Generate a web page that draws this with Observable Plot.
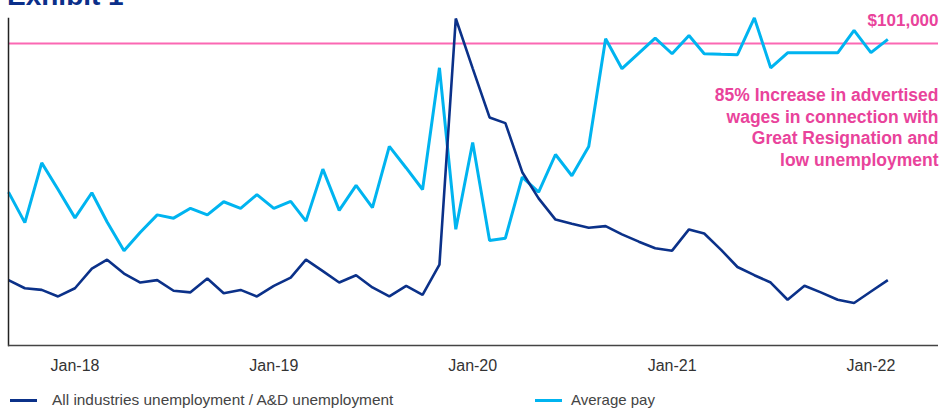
<!DOCTYPE html>
<html>
<head>
<meta charset="utf-8">
<script src="https://cdn.jsdelivr.net/npm/d3@7"></script>
<script src="https://cdn.jsdelivr.net/npm/@observablehq/plot@0.6"></script>
<style>
  body { margin: 0; background: #fff; font-family: "Liberation Sans", Arial, sans-serif; }
  #wrap { position: relative; width: 940px; height: 412px; overflow: hidden; background: #fff; }
  .title { position: absolute; left: 7px; top: -18px; z-index: 1; font-size: 28px; line-height: 28px;
           font-weight: bold; color: #0b2f8a; white-space: nowrap; }
  #chart { position: absolute; left: 0; top: 0; }
  .key { position: absolute; top: 390px; display: flex; align-items: center; font-size: 15px;
         line-height: 20px; color: #444; white-space: nowrap; }
  .key i { display: inline-block; width: 27px; height: 3px; }
</style>
</head>
<body>
<div id="wrap">
  <div id="chart"></div>
  <div class="title">Exhibit 1</div>
  <div class="key" style="left:10px;font-size:15.4px"><i style="background:#0b3189;margin-right:15px"></i>All industries unemployment / A&amp;D unemployment</div>
  <div class="key" style="left:535px"><i style="background:#00b4f0;margin-right:9px"></i>Average pay</div>
</div>
<script>
// Monthly observations, Sep 2017 – Feb 2022
const months = [
  "2017-09","2017-10","2017-11","2017-12",
  "2018-01","2018-02","2018-03","2018-04","2018-05","2018-06","2018-07","2018-08","2018-09","2018-10","2018-11","2018-12",
  "2019-01","2019-02","2019-03","2019-04","2019-05","2019-06","2019-07","2019-08","2019-09","2019-10","2019-11","2019-12",
  "2020-01","2020-02","2020-03","2020-04","2020-05","2020-06","2020-07","2020-08","2020-09","2020-10","2020-11","2020-12",
  "2021-01","2021-02","2021-03","2021-04","2021-05","2021-06","2021-07","2021-08","2021-09","2021-10","2021-11","2021-12",
  "2022-01","2022-02"
];

// Average advertised pay (USD)
const averagePay = [
  51300, 41100, 61100, 52200,
  42700, 51100, 41300, 31700, 37900, 43700, 42600, 45900, 43700, 48100, 45900, 50500,
  45900, 48200, 41600, 59000, 45200, 53600, 46100, 66600, 59400, 52200, 92900, 38900,
  67900, 35100, 35900, 56300, 51300, 63900, 56800, 66600, 102600, 92600, 97800, 102800,
  97600, 103700, 97600, 97400, 97300, 109600, 92900, 97900, 97900, 97900, 97900, 105400,
  98000, 102400
];

// All industries unemployment rate divided by A&D unemployment rate
const unemploymentRatio = [
  0.80, 0.70, 0.68, 0.60,
  0.70, 0.94, 1.05, 0.88, 0.77, 0.80, 0.67, 0.65, 0.82, 0.64, 0.68, 0.60,
  0.73, 0.83, 1.05, 0.91, 0.77, 0.86, 0.71, 0.60, 0.73, 0.62, 0.99, 4.00,
  3.39, 2.79, 2.72, 2.12, 1.80, 1.54, 1.49, 1.44, 1.46, 1.36, 1.27, 1.19,
  1.16, 1.42, 1.37, 1.17, 0.96, 0.86, 0.77, 0.56, 0.73, 0.65, 0.56, 0.52,
  0.66, 0.80
];

const tickDates = ["2018-01-01", "2019-01-01", "2020-01-01", "2021-01-01", "2022-01-01"];
const payMark = 101000;
const annotation = "85% Increase in advertised\nwages in connection with\nGreat Resignation and\nlow unemployment";

// Two series share the frame, each scaled to its own top value
const payTop = 109400;
const ratioTop = 4;

const parseMonth = d3.utcParse("%Y-%m");
const payRows = months.map((m, i) => ({date: parseMonth(m), value: averagePay[i]}));
const ratioRows = months.map((m, i) => ({date: parseMonth(m), value: unemploymentRatio[i]}));

const navy = "#0b3189";
const sky = "#00b4f0";
const pink = "#e9439b";
const font = "Liberation Sans, Arial, sans-serif";

const chart = Plot.plot({
  width: 940,
  height: 385,
  marginLeft: 8,
  marginRight: 2,
  marginTop: 18,
  marginBottom: 40,
  style: {fontFamily: font, background: "transparent"},
  x: {type: "utc", domain: [new Date("2017-09-01"), new Date("2022-05-05")], axis: null},
  y: {domain: [0, 1], axis: null},
  marks: [
    Plot.axisX({
      ticks: tickDates.map(d => new Date(d)),
      tickFormat: d3.utcFormat("%b-%y"),
      tickSize: 0,
      tickPadding: 14,
      fontSize: 16,
      fill: "#333"
    }),
    Plot.ruleY([payMark], {y: d => d / payTop, stroke: "#fb68b3", strokeWidth: 2}),
    Plot.line(payRows, {
      x: "date", y: d => d.value / payTop,
      stroke: sky, strokeWidth: 3, strokeLinejoin: "miter", strokeLinecap: "butt"
    }),
    Plot.line(ratioRows, {
      x: "date", y: d => d.value / ratioTop,
      stroke: navy, strokeWidth: 2.6, strokeLinejoin: "miter", strokeLinecap: "butt"
    }),
    Plot.frame({anchor: "left", stroke: "#222", strokeWidth: 1.5}),
    Plot.ruleY([0], {stroke: "#444", strokeWidth: 1.5}),
    Plot.text([payMark], {
      y: d => d / payTop,
      frameAnchor: "right",
      textAnchor: "end",
      lineAnchor: "bottom",
      dy: -18,
      text: d => "$" + d3.format(",")(d),
      fill: pink, fontSize: 17, fontWeight: "bold", fontFamily: font
    }),
    Plot.text([annotation], {
      frameAnchor: "top-right",
      textAnchor: "end",
      lineAnchor: "bottom",
      lineHeight: 1.22,
      dy: 147,
      text: d => d,
      fill: pink, fontSize: 17.5, fontWeight: "bold", fontFamily: font
    })
  ]
});

document.getElementById("chart").appendChild(chart);
</script>
</body>
</html>
